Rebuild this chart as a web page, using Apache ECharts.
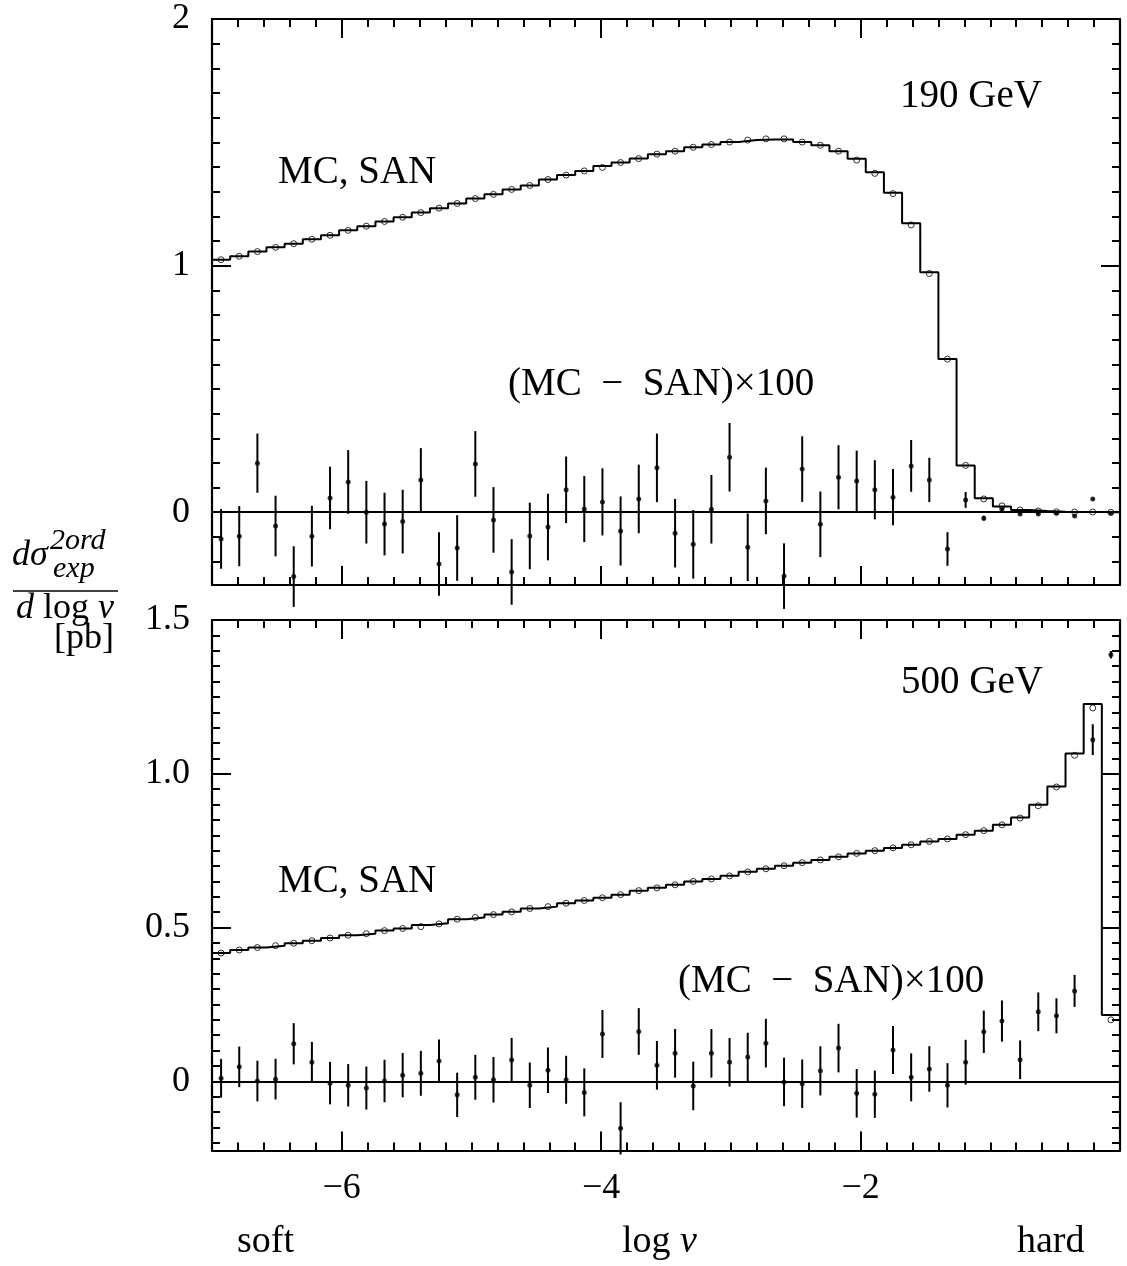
<!DOCTYPE html>
<html><head><meta charset="utf-8">
<script src="https://cdn.jsdelivr.net/npm/echarts@6/dist/echarts.min.js"></script>
<style>html,body{margin:0;padding:0;background:#fff}#c{width:1127px;height:1266px}</style>
</head><body><div id="c"></div><script>
// ---- data ----
const logV = [-6.93,-6.79,-6.65,-6.51,-6.37,-6.23,-6.09,-5.95,-5.81,-5.67,-5.53,-5.39,-5.25,-5.11,-4.97,-4.83,-4.69,-4.55,-4.41,-4.27,-4.13,-3.99,-3.85,-3.71,-3.57,-3.43,-3.29,-3.15,-3.01,-2.87,-2.73,-2.59,-2.45,-2.31,-2.17,-2.03,-1.89,-1.75,-1.61,-1.47,-1.33,-1.19,-1.05,-0.91,-0.77,-0.63,-0.49,-0.35,-0.21,-0.07];
const binHalf = 0.07;

const mc190 = [1.024,1.038,1.057,1.074,1.089,1.107,1.123,1.143,1.160,1.179,1.196,1.215,1.233,1.252,1.272,1.289,1.309,1.325,1.349,1.367,1.384,1.404,1.418,1.434,1.452,1.464,1.480,1.491,1.501,1.509,1.511,1.511,1.501,1.488,1.464,1.433,1.379,1.295,1.172,0.973,0.621,0.190,0.057,0.023,0.009,0.005,0.002,0.001,0.001,0.000];
const san190 = [1.024,1.038,1.057,1.074,1.089,1.107,1.123,1.143,1.160,1.179,1.196,1.215,1.233,1.252,1.272,1.289,1.309,1.325,1.349,1.367,1.384,1.398,1.418,1.434,1.452,1.464,1.480,1.491,1.501,1.509,1.514,1.514,1.501,1.488,1.464,1.428,1.374,1.292,1.165,0.968,0.621,0.190,0.054,0.026,0.009,0.005,0.002,0.001,0.001,0.000];
const diff190 = [-0.108,-0.097,0.199,-0.056,-0.261,-0.097,0.058,0.123,0.000,-0.048,-0.038,0.131,-0.210,-0.145,0.196,-0.031,-0.242,-0.096,-0.060,0.091,0.013,0.042,-0.076,0.054,0.180,-0.085,-0.130,0.012,0.223,-0.142,0.046,-0.259,0.175,-0.049,0.142,0.127,0.091,0.061,0.188,0.131,-0.149,0.050,-0.024,0.012,-0.007,-0.007,-0.004,-0.015,0.054,-0.004];
const err190 = [0.121,0.122,0.120,0.123,0.123,0.123,0.127,0.129,0.127,0.127,0.129,0.129,0.129,0.133,0.133,0.133,0.133,0.135,0.135,0.135,0.134,0.136,0.140,0.139,0.139,0.139,0.139,0.139,0.139,0.137,0.135,0.133,0.133,0.133,0.130,0.123,0.120,0.114,0.105,0.090,0.068,0.032,0.010,0.006,0.004,0.003,0.003,0.003,0.003,0.002];

const mc500 = [0.417,0.427,0.435,0.441,0.449,0.457,0.466,0.475,0.480,0.490,0.497,0.508,0.514,0.527,0.533,0.542,0.551,0.562,0.568,0.579,0.588,0.597,0.607,0.620,0.629,0.639,0.650,0.658,0.668,0.681,0.691,0.701,0.711,0.720,0.730,0.741,0.750,0.759,0.769,0.780,0.788,0.802,0.815,0.834,0.858,0.899,0.959,1.066,1.227,0.216];
const san500 = [0.417,0.427,0.435,0.441,0.449,0.457,0.466,0.475,0.480,0.490,0.497,0.503,0.512,0.527,0.533,0.542,0.551,0.562,0.568,0.579,0.588,0.597,0.607,0.620,0.629,0.639,0.650,0.658,0.668,0.681,0.691,0.701,0.711,0.720,0.730,0.741,0.750,0.759,0.769,0.780,0.788,0.802,0.815,0.834,0.856,0.896,0.957,1.060,1.214,0.200];
const diff500 = [0.010,0.047,0.001,0.007,0.122,0.062,-0.006,-0.013,-0.022,0.001,0.020,0.026,0.066,-0.044,0.013,0.005,0.069,-0.013,0.036,0.005,-0.036,0.154,-0.153,0.162,0.052,0.091,-0.015,0.091,0.062,0.079,0.124,-0.002,-0.008,0.034,0.108,-0.039,-0.042,0.102,0.013,0.040,-0.013,0.062,0.161,0.196,0.070,0.226,0.213,0.294,1.111,1.387];
const err500 = [0.063,0.066,0.066,0.066,0.067,0.066,0.069,0.069,0.070,0.069,0.072,0.073,0.070,0.072,0.073,0.074,0.072,0.074,0.074,0.078,0.078,0.078,0.085,0.076,0.079,0.079,0.079,0.079,0.079,0.079,0.079,0.079,0.079,0.080,0.079,0.079,0.077,0.078,0.078,0.074,0.072,0.073,0.069,0.067,0.063,0.063,0.057,0.052,0.050,0.012];

// ---- ticks ----
const xMajorTicks = [-6, -4, -2];
const xMinorTicks = []; for (let i = 0; i <= 35; i++) xMinorTicks.push(+(-7 + 0.2 * i).toFixed(2));
const yTopMajor = [0, 1, 2];
const yTopMinor = []; for (let i = -2; i <= 20; i++) yTopMinor.push(+(0.1 * i).toFixed(2));
const yBotMajor = [0, 0.5, 1.0, 1.5];
const yBotMinor = []; for (let i = -4; i <= 30; i++) yBotMinor.push(+(0.05 * i).toFixed(2));

const FONT = '"Liberation Serif","DejaVu Serif",serif';
const BLK = '#000';

function xAxes(g, showLabels) {
  const base = {gridIndex: g, type: 'value', min: -7, max: 0, splitLine: {show: false}};
  const line = {show: true, onZero: false, lineStyle: {color: BLK, width: 2.2}};
  return [
    Object.assign({}, base, {position: 'bottom', axisLine: line,
      axisTick: {show: true, inside: true, length: 8, customValues: xMinorTicks, lineStyle: {color: BLK, width: 2}},
      axisLabel: {show: false}}),
    Object.assign({}, base, {position: 'bottom', axisLine: {show: false, onZero: false},
      axisTick: {show: true, inside: true, length: 19, customValues: xMajorTicks, lineStyle: {color: BLK, width: 2}},
      axisLabel: {show: showLabels, customValues: xMajorTicks, margin: 20, color: BLK, fontFamily: FONT, fontSize: 36,
        formatter: v => (v < 0 ? '\u2212' : '') + Math.abs(v)}}),
    Object.assign({}, base, {position: 'top', axisLine: line,
      axisTick: {show: true, inside: true, length: 8, customValues: xMinorTicks, lineStyle: {color: BLK, width: 2}},
      axisLabel: {show: false}}),
    Object.assign({}, base, {position: 'top', axisLine: {show: false, onZero: false},
      axisTick: {show: true, inside: true, length: 19, customValues: xMajorTicks, lineStyle: {color: BLK, width: 2}},
      axisLabel: {show: false}})
  ];
}
function yAxes(g, mn, mx, minor, major, fmt) {
  const base = {gridIndex: g, type: 'value', min: mn, max: mx, splitLine: {show: false}};
  const line = {show: true, onZero: false, lineStyle: {color: BLK, width: 2.2}};
  return [
    Object.assign({}, base, {position: 'left', axisLine: line,
      axisTick: {show: true, inside: true, length: 8, customValues: minor, lineStyle: {color: BLK, width: 2}},
      axisLabel: {show: false}}),
    Object.assign({}, base, {position: 'left', axisLine: {show: false, onZero: false},
      axisTick: {show: true, inside: true, length: 19, customValues: major, lineStyle: {color: BLK, width: 2}},
      axisLabel: {show: true, customValues: major, margin: 22, color: BLK, fontFamily: FONT, fontSize: 36, formatter: fmt}}),
    Object.assign({}, base, {position: 'right', axisLine: line,
      axisTick: {show: true, inside: true, length: 8, customValues: minor, lineStyle: {color: BLK, width: 2}},
      axisLabel: {show: false}}),
    Object.assign({}, base, {position: 'right', axisLine: {show: false, onZero: false},
      axisTick: {show: true, inside: true, length: 19, customValues: major, lineStyle: {color: BLK, width: 2}},
      axisLabel: {show: false}})
  ];
}

function histData(vals) {
  const d = logV.map((x, i) => [+(x - binHalf).toFixed(3), vals[i]]);
  d.push([+(logV[logV.length - 1] + binHalf).toFixed(3), vals[vals.length - 1]]);
  return d;
}
function seriesFor(xi, yi, mc, san, diff, err) {
  return [
    {type: 'line', xAxisIndex: xi, yAxisIndex: yi, step: 'end', data: histData(mc), showSymbol: false,
      lineStyle: {color: BLK, width: 2}, silent: true, z: 3,
      markLine: {silent: true, symbol: ['none', 'none'], label: {show: false},
        lineStyle: {color: BLK, width: 2, type: 'solid'}, data: [{yAxis: 0}]}},
    {type: 'scatter', xAxisIndex: xi, yAxisIndex: yi, data: logV.map((x, i) => [x, san[i]]),
      symbol: 'circle', symbolSize: 6, itemStyle: {color: 'rgba(0,0,0,0)', borderColor: BLK, borderWidth: 1}, z: 4},
    {type: 'custom', xAxisIndex: xi, yAxisIndex: yi, data: logV.map((x, i) => [x, diff[i], err[i]]),
      encode: {x: 0, y: 1}, clip: false, z: 5,
      renderItem: (params, api) => {
        const x = api.value(0), y = api.value(1), e = api.value(2);
        const a = api.coord([x, y + e]), b = api.coord([x, y - e]);
        return {type: 'line', shape: {x1: a[0], y1: a[1], x2: b[0], y2: b[1]}, style: {stroke: BLK, lineWidth: 2}};
      }},
    {type: 'scatter', xAxisIndex: xi, yAxisIndex: yi, data: logV.map((x, i) => [x, diff[i]]),
      symbol: 'circle', symbolSize: 5, itemStyle: {color: BLK}, z: 6}
  ];
}

function txt(x, y, text, size, style, align) {
  return {type: 'text', x: x, y: y, silent: true,
    style: {text: text, fill: BLK, font: (style ? style + ' ' : '') + size + 'px ' + FONT, verticalAlign: 'middle', align: align || 'left'}};
}
function rtxt(x, y, text, rich, align) {
  return {type: 'text', x: x, y: y, silent: true,
    style: {text: text, fill: BLK, rich: rich, verticalAlign: 'middle', align: align || 'left'}};
}
const MINUS = '\u2002\u2212\u2002';

const chart = echarts.init(document.getElementById('c'), null, {renderer: 'canvas'});
const option = {
  animation: false,
  backgroundColor: '#fff',
  grid: [
    {left: 212, top: 19, width: 908, height: 566, outerBoundsMode: 'none'},
    {left: 212, top: 620, width: 908, height: 530.5, outerBoundsMode: 'none'}
  ],
  xAxis: xAxes(0, false).concat(xAxes(1, true)),
  yAxis: yAxes(0, -0.295, 2, yTopMinor, yTopMajor, v => String(v))
    .concat(yAxes(1, -0.225, 1.5, yBotMinor, yBotMajor, v => (v === 0 ? '0' : v.toFixed(1)))),
  series: seriesFor(0, 0, mc190, san190, diff190, err190).concat(seriesFor(4, 4, mc500, san500, diff500, err500)),
  graphic: [
    txt(900, 97, '190 GeV', 39),
    txt(278, 173, 'MC, SAN', 39),
    txt(508, 385, '(MC' + MINUS + 'SAN)\u00d7100', 39),
    txt(901, 683, '500 GeV', 39),
    txt(278, 882, 'MC, SAN', 39),
    txt(678, 982, '(MC' + MINUS + 'SAN)\u00d7100', 39),
    txt(237, 1242, 'soft', 38),
    rtxt(622, 1242, '{u|log }{i|v}', {u: {fontFamily: FONT, fontSize: 38, fill: BLK}, i: {fontFamily: FONT, fontSize: 38, fontStyle: 'italic', fill: BLK}}),
    txt(1017, 1242, 'hard', 38),
    // y-axis title (fraction)
    txt(12, 556, 'd\u03c3', 36, 'italic'),
    txt(50, 541, '2ord', 30, 'italic'),
    txt(53, 569, 'exp', 30, 'italic'),
    {type: 'line', silent: true, shape: {x1: 13, y1: 591, x2: 118, y2: 591}, style: {stroke: BLK, lineWidth: 1.6}},
    rtxt(65, 609, '{i|d}{u| log }{i|v}', {u: {fontFamily: FONT, fontSize: 36, fill: BLK}, i: {fontFamily: FONT, fontSize: 36, fontStyle: 'italic', fill: BLK}}, 'center'),
    txt(114, 639, '[pb]', 36, '', 'right')
  ]
};
chart.setOption(option);
</script></body></html>
